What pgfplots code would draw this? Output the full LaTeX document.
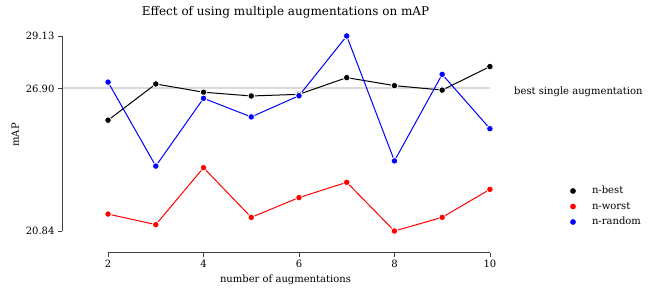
\documentclass[border=0pt]{standalone}
\usepackage{fontspec}
\setmainfont{DejaVu Serif}
\usepackage{pgfplots}
\usepackage{pgfplotstable}
\pgfplotsset{compat=1.18}
\pgfplotstableread{
n v
2 25.55
3 27.09
4 26.74
5 26.58
6 26.65
7 27.36
8 27.02
9 26.83
10 27.83
}\best
\pgfplotstableread{
n v
2 21.56
3 21.11
4 23.53
5 21.42
6 22.26
7 22.91
8 20.84
9 21.42
10 22.61
}\worst
\pgfplotstableread{
n v
2 27.17
3 23.60
4 26.48
5 25.69
6 26.59
7 29.13
8 23.82
9 27.50
10 25.19
}\random
\begin{document}
\begin{tikzpicture}[x=1pt,y=1pt]
\path[use as bounding box] (0,0) rectangle (664,295);
\begin{axis}[
  at={(62pt,42.5pt)}, anchor=south west,
  scale only axis, width=447pt, height=226.25pt,
  xmin=1.035, xmax=10.4, ymin=19.926, ymax=29.5445,
  clip=false,
  axis x line*=bottom, axis y line*=left,
  axis line style={draw=none},
  xtick={2,4,6,8,10}, xticklabels={2,4,6,8,10},
  ytick={20.84,26.90,29.13}, yticklabels={20.84,26.90,29.13},
  minor tick num=0,
  tick align=outside, major tick length=4pt,
  tick style={black!75, line width=0.8pt},
  /pgf/number format/assume math mode=true,
  tick label style={font=\fontsize{10}{12}\selectfont},
  label style={font=\fontsize{10}{12}\selectfont},
  xlabel={number of augmentations},
  ylabel={mAP},
  ylabel style={at={(ticklabel cs:0.52)}},
  title={Effect of using multiple augmentations on mAP},
  title style={at={(0.5,1)}, anchor=base, yshift=5pt, font=\fontsize{12}{14}\selectfont},
  legend style={at={(1.1365,0.3028)}, anchor=north west, draw=none, fill=none,
    inner sep=0pt, outer sep=0pt, row sep=1.5pt,
    font=\fontsize{10}{12}\selectfont,
    nodes={inner sep=2pt, text height=8pt, text depth=2pt}},
  legend cell align=left,
  legend image code/.code={\path[draw=none, fill=none] (-3pt,-3pt) rectangle (17pt,3pt); \draw[#1] plot coordinates {(0pt,0pt)};},
]
\addplot[black!14, line width=2pt, forget plot] coordinates {(1.035,26.90) (10,26.90)};
\addplot[black, line width=1pt, mark=*, mark size=3.3pt, mark options={fill=black, draw=white, line width=0.8pt}, forget plot] table[x=n,y=v] {\best};
\addplot[red, line width=1pt, mark=*, mark size=3.3pt, mark options={fill=red, draw=white, line width=0.8pt}, forget plot] table[x=n,y=v] {\worst};
\addplot[blue, line width=1pt, mark=*, mark size=3.3pt, mark options={fill=blue, draw=white, line width=0.8pt}, forget plot] table[x=n,y=v] {\random};
\addlegendimage{only marks, mark=*, mark size=2.6pt, black}
\addlegendentry{n-best}
\addlegendimage{only marks, mark=*, mark size=2.6pt, red}
\addlegendentry{n-worst}
\addlegendimage{only marks, mark=*, mark size=2.6pt, blue}
\addlegendentry{n-random}
\draw[black!75, line width=0.8pt] (axis cs:1.035,20.84) -- (axis cs:1.035,29.13);
\draw[black!75, line width=0.8pt] (axis cs:2,19.926) -- (axis cs:10,19.926);
\node[anchor=base west, inner sep=0pt, font=\fontsize{10}{12}\selectfont] at (axis cs:10.505,26.66) {best single augmentation};
\end{axis}
\end{tikzpicture}
\end{document}
